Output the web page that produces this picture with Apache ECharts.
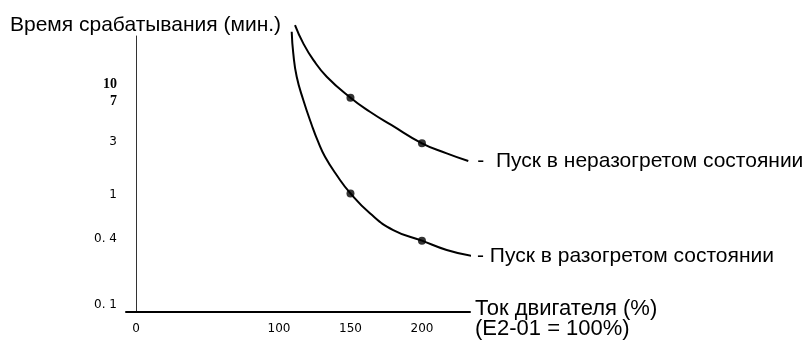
<!DOCTYPE html>
<html>
<head>
<meta charset="utf-8">
<script src="https://cdn.jsdelivr.net/npm/echarts@6/dist/echarts.min.js"></script>
<style>
html,body{margin:0;padding:0;background:#fff;}
#chart{width:811px;height:347px;}
</style>
</head>
<body>
<div id="chart"></div>
<script>
// Data
const yTitle = 'Время срабатывания (мин.)';
const xTitleLines = ['Ток двигателя (%)', '(E2-01 = 100%)'];
const coldName = 'Пуск в неразогретом состоянии';
const hotName = 'Пуск в разогретом состоянии';
const xTicks = [0, 100, 150, 200];
const yTicks = [0.1, 0.4, 1, 3, 7, 10];
const currentCold = [111.2, 117.0, 124.0, 133.4, 150, 163.6, 178.5, 200, 217.3, 232.4];
const timeCold = [34.3, 23.4, 16.6, 11.7, 7.55, 5.64, 4.28, 2.92, 2.37, 2.02];
const currentHot = [108.9, 110.0, 112.4, 117.0, 122.9, 127.5, 132.2, 140.3, 150, 163.6, 179.9, 200, 217.3, 234.8];
const timeHot = [29.8, 19.0, 11.7, 7.2, 4.28, 2.99, 2.21, 1.51, 1.03, 0.68, 0.48, 0.385, 0.317, 0.28];
const dotCurrents = [150, 200];
const dotCold = [7.55, 2.92];
const dotHot = [1.03, 0.385];

const zip = (a, b) => a.map((v, i) => [v, b[i]]);

const chart = echarts.init(document.getElementById('chart'), null, {renderer: 'canvas'});
const font = '"Liberation Sans", Arial, sans-serif';
const endLbl = (dist, prefix) => ({
  show: true,
  distance: dist,
  formatter: p => prefix + p.seriesName,
  color: '#000',
  fontFamily: font,
  fontSize: 21
});
chart.setOption({
  animation: false,
  backgroundColor: '#fff',
  title: {
    text: yTitle,
    left: 5,
    top: 10,
    textStyle: {fontFamily: font, fontSize: 21, fontWeight: 'normal', color: '#000'}
  },
  grid: {left: 126, top: 36, width: 344, height: 276, containLabel: false},
  xAxis: {
    type: 'value',
    min: -7,
    max: 233.6,
    name: '{s| }\n{a|' + xTitleLines[0] + '}\n{a|' + xTitleLines[1] + '}',
    nameLocation: 'end',
    nameGap: 5,
    nameTextStyle: {
      fontFamily: font, fontSize: 22, color: '#000', align: 'left', verticalAlign: 'middle',
      rich: {
        s: {fontSize: 1, lineHeight: 14},
        a: {fontFamily: font, fontSize: 22, color: '#000', lineHeight: 20}
      }
    },
    axisLine: {show: true, lineStyle: {color: '#000', width: 2}},
    axisTick: {show: false},
    splitLine: {show: false},
    axisLabel: {customValues: xTicks, margin: 11, color: '#000', fontFamily: '"DejaVu Sans", sans-serif', fontSize: 12}
  },
  yAxis: {
    type: 'log',
    min: 0.0871,
    max: 27.3,
    axisLine: {show: true, lineStyle: {color: '#333', width: 1}},
    axisTick: {show: false},
    splitLine: {show: false},
    minorSplitLine: {show: false},
    axisLabel: {
      customValues: yTicks,
      margin: 9,
      color: '#000',
      fontFamily: '"DejaVu Sans", sans-serif',
      fontSize: 12,
      formatter: v => (v >= 7 ? '{b|' + v + '}' : (v < 1 ? String(v).replace('.', '. ') : String(v))),
      rich: {b: {fontFamily: '"Liberation Serif", serif', fontWeight: 'bold', fontSize: 14, color: '#000'}}
    }
  },
  series: [
    {
      name: coldName,
      type: 'line',
      data: zip(currentCold, timeCold),
      smooth: 0.5,
      showSymbol: false,
      clip: false,
      lineStyle: {color: '#000', width: 2},
      itemStyle: {color: '#000'},
      endLabel: endLbl(9, '-  ')
    },
    {
      name: hotName,
      type: 'line',
      data: zip(currentHot, timeHot),
      smooth: 0.5,
      showSymbol: false,
      clip: false,
      lineStyle: {color: '#000', width: 2},
      itemStyle: {color: '#000'},
      endLabel: endLbl(6, '- ')
    },
    {
      type: 'scatter',
      data: zip(dotCurrents, dotCold).concat(zip(dotCurrents, dotHot)),
      symbolSize: 8,
      itemStyle: {color: '#000'},
      clip: false
    }
  ]
});
</script>
</body>
</html>
